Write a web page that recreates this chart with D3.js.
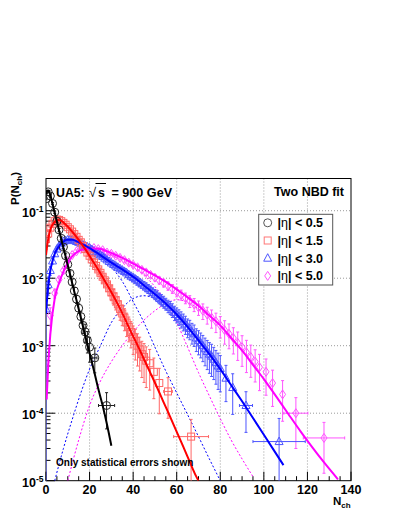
<!DOCTYPE html>
<html><head><meta charset="utf-8">
<script src="https://cdn.jsdelivr.net/npm/d3@7"></script>
<style>body{margin:0;background:#fff}</style>
</head><body>
<svg id="c" width="399" height="516"></svg>
<script>
// ---------- data ----------
const seriesNames = ["|η| < 0.5", "|η| < 1.5", "|η| < 3.0", "|η| < 5.0"];
const xTickLabels = [0, 20, 40, 60, 80, 100, 120, 140];
const yTickValues = [1e-5, 1e-4, 1e-3, 1e-2, 1e-1];
const yTickExps = ["-5", "-4", "-3", "-2", "-1"];

// data points: [N, P, relative error, half bin width]
const data05 = [[0,0.15,0.03,0],[1,0.19,0.03,0],[2,0.165,0.03,0],[3,0.128,0.03,0],[4,0.095,0.04,0],[5,0.07,0.04,0],[6,0.052,0.05,0],[7,0.039,0.05,0],[8,0.029,0.06,0],[9,0.0215,0.07,0],[10,0.016,0.08,0],[11,0.0118,0.09,0],[12,0.0088,0.1,0],[13,0.0065,0.12,0],[14,0.0049,0.14,0],[15,0.0036,0.16,0],[16,0.0027,0.2,0],[17,0.002,0.24,0],[18,0.0016,0.3,0],[19,0.0012,0.35,0],[20,0.00095,0.4,0],[22.4,0.00066,0.4,1],[27.8,0.00013,0.55,3.7]];
const data15 = [[0,0.038,0.3,0],[1,0.046,0.12,0],[2,0.056,0.08,0],[3,0.064,0.06,0],[4,0.07,0.05,0],[5,0.074,0.05,0],[6,0.073,0.05,0],[7,0.07,0.05,0],[8,0.066,0.05,0],[9,0.062,0.05,0],[10,0.057,0.06,0],[11,0.053,0.06,0],[12,0.049,0.07,0],[13,0.045,0.08,0],[14,0.041,0.08,0],[15,0.037,0.09,0],[16,0.034,0.1,0],[17,0.03,0.1,0],[18,0.027,0.11,0],[19,0.024,0.12,0],[20,0.0215,0.13,0],[21,0.019,0.14,0],[22,0.017,0.15,0],[23,0.0152,0.16,0],[24,0.0135,0.17,0],[25,0.012,0.18,0],[26,0.0105,0.19,0],[27,0.0093,0.2,0],[28,0.0081,0.22,0],[29,0.0071,0.23,0],[30,0.0062,0.25,0],[31,0.0054,0.26,0],[32,0.0047,0.28,0],[33,0.0041,0.3,0],[34,0.0035,0.32,0],[35,0.003,0.34,0],[36,0.0026,0.36,0],[37,0.0022,0.38,0],[38,0.0019,0.4,0],[39,0.0016,0.42,0],[40,0.00135,0.45,0],[41,0.00118,0.48,0],[42,0.001,0.5,0],[43,0.00088,0.52,0],[44,0.00075,0.55,0],[45,0.00068,0.58,0],[46,0.0006,0.6,0],[47.6,0.00055,0.6,0],[49.5,0.00041,0.6,0],[52,0.00028,0.65,0],[56,0.00021,0.6,2],[66.6,0.000045,0.8,8]];
const data30 = [[0,0.0035,1.5,0],[1,0.008,0.3,0],[2,0.013,0.15,0],[3,0.018,0.1,0],[4,0.023,0.08,0],[5,0.027,0.07,0],[6,0.03,0.06,0],[7,0.033,0.05,0],[8,0.035,0.05,0],[9,0.036,0.05,0],[10,0.037,0.05,0],[11,0.037,0.05,0],[12,0.037,0.05,0],[13,0.036,0.05,0],[14,0.035,0.05,0],[15,0.034,0.05,0],[16,0.033,0.05,0],[17,0.031,0.05,0],[18,0.03,0.05,0],[19,0.029,0.06,0],[20,0.028,0.06,0],[21,0.0265,0.06,0],[22,0.025,0.06,0],[23,0.0238,0.06,0],[24,0.0228,0.07,0],[25,0.022,0.07,0],[26,0.021,0.07,0],[27,0.0198,0.07,0],[28,0.0187,0.08,0],[29,0.0177,0.08,0],[30,0.0168,0.08,0],[31,0.016,0.08,0],[32,0.0152,0.09,0],[33,0.0145,0.09,0],[34,0.0138,0.09,0],[35,0.0132,0.1,0],[36,0.0126,0.1,0],[37,0.012,0.1,0],[38,0.0113,0.11,0],[39,0.0107,0.11,0],[40,0.0102,0.12,0],[41,0.0097,0.12,0],[42,0.0092,0.13,0],[43,0.0087,0.13,0],[44,0.0082,0.14,0],[45,0.0078,0.14,0],[46,0.0074,0.15,0],[47,0.007,0.15,0],[48,0.0066,0.16,0],[49,0.0062,0.16,0],[50,0.0058,0.17,0],[51,0.0055,0.18,0],[52,0.0051,0.18,0],[53,0.0048,0.19,0],[54,0.0045,0.2,0],[55,0.0042,0.2,0],[56,0.0039,0.21,0],[57,0.0037,0.22,0],[58,0.0034,0.23,0],[59,0.0031,0.24,0],[60,0.0029,0.25,0],[61,0.0027,0.26,0],[62,0.0025,0.27,0],[63,0.0023,0.28,0],[64,0.0021,0.3,0],[65,0.0019,0.31,0],[66,0.0018,0.32,0],[67,0.0016,0.34,0],[68,0.0015,0.35,0],[69,0.0013,0.37,0],[70,0.0012,0.39,0],[71,0.0011,0.4,0],[72,0.001,0.42,0],[73,0.0009,0.44,0],[74,0.00082,0.46,0],[75,0.00075,0.48,0],[76,0.0007,0.5,0],[77,0.00063,0.5,0],[78,0.00056,0.52,0],[79,0.0005,0.55,0],[80,0.00046,0.55,0],[82.6,0.00033,0.55,0],[85.7,0.00024,0.6,0],[91.8,0.00013,0.6,3],[107,0.000038,1.2,12]];
const data50 = [[0,0.00057,0.6,0],[2,0.0028,0.3,0],[4,0.006,0.15,0],[6,0.0095,0.1,0],[8,0.013,0.08,0],[10,0.018,0.06,0],[12,0.022,0.05,0],[14,0.025,0.05,0],[16,0.027,0.05,0],[18,0.028,0.05,0],[20,0.028,0.05,0],[22,0.028,0.05,0],[24,0.027,0.05,0],[26,0.026,0.05,0],[28,0.024,0.06,0],[30,0.023,0.06,0],[32,0.0215,0.06,0],[34,0.02,0.07,0],[36,0.0185,0.07,0],[38,0.017,0.08,0],[40,0.0158,0.08,0],[42,0.0145,0.09,0],[44,0.0133,0.09,0],[46,0.0122,0.1,0],[48,0.0112,0.1,0],[50,0.0102,0.11,0],[52,0.0093,0.12,0],[54,0.0085,0.13,0],[56,0.0077,0.14,0],[58,0.007,0.15,0],[60,0.0063,0.16,0],[62,0.0057,0.17,0],[64,0.0051,0.18,0],[66,0.0046,0.2,0],[68,0.0041,0.22,0],[70,0.0037,0.24,0],[72,0.0033,0.26,0],[74,0.0029,0.28,0],[76,0.0026,0.3,0],[78,0.0023,0.32,0],[80,0.002,0.35,0],[82,0.0017,0.38,0],[84,0.0015,0.4,0],[86,0.0013,0.42,0],[88,0.0011,0.45,0],[90,0.00095,0.48,0],[92,0.0008,0.5,0],[94,0.00068,0.5,0],[96,0.00058,0.5,0],[98,0.00048,0.55,0],[101,0.00041,0.55,0],[104,0.00028,0.55,0],[108.6,0.00019,0.6,0],[114.7,0.0001,0.7,5.5],[127.6,0.000043,0.7,9.5]];

// two-NBD fit curves: [N, P]
const fit05 = [[0,0.175],[0.5,0.195],[1,0.2],[1.5,0.19],[2,0.17],[3,0.126],[4,0.093],[5,0.069],[6,0.051],[7,0.038],[8,0.028],[9,0.021],[10,0.0155],[11,0.0115],[12,0.0085],[13,0.0063],[14,0.0047],[15,0.0035],[16,0.0026],[17,0.0019],[18,0.0014],[19,0.00105],[20,0.00078],[22,0.00043],[24,0.00023],[26,0.00013],[28,0.000068],[30,0.000033]];
const fit15 = [[0,0.022],[1,0.038],[2,0.052],[3,0.062],[4,0.068],[5,0.072],[6,0.073],[7,0.071],[8,0.067],[10,0.058],[12,0.049],[15,0.037],[18,0.027],[21,0.019],[24,0.0133],[27,0.0091],[30,0.0062],[33,0.0041],[36,0.0026],[39,0.0016],[42,0.00102],[45,0.00063],[48,0.00039],[51,0.00024],[54,0.000145],[57,0.000088],[60,0.000053],[63,0.000032],[66,0.000019],[69,0.0000115],[70,0.00001]];
const fit30 = [[0,0.003],[1,0.0075],[2,0.013],[3,0.018],[4,0.023],[6,0.03],[8,0.035],[10,0.037],[12,0.037],[15,0.034],[20,0.028],[25,0.022],[30,0.017],[35,0.0135],[41,0.01],[45,0.0078],[50,0.0058],[55,0.0042],[60,0.0029],[65,0.0019],[70,0.0012],[75,0.00075],[80,0.00045],[85,0.00026],[90,0.00015],[95,0.000085],[100,0.000048],[105,0.000027],[109,0.000017]];
const fit50 = [[0.3,0.00016],[1,0.0005],[2,0.0015],[4,0.005],[6,0.0085],[8,0.0125],[10,0.017],[12,0.021],[14,0.024],[16,0.026],[18,0.027],[20,0.0275],[22,0.0275],[25,0.027],[28,0.025],[30,0.0235],[35,0.02],[40,0.0165],[45,0.0135],[50,0.011],[55,0.0088],[60,0.0068],[65,0.0052],[70,0.0039],[75,0.0028],[80,0.002],[85,0.0013],[90,0.00085],[95,0.00052],[100,0.00032],[105,0.00019],[111,0.0001],[117,0.000053],[122,0.000032],[128,0.000018],[134,0.0000105]];
// NBD components (dotted): soft and semi-hard
const soft30 = [[0,0.003],[1,0.0075],[2,0.013],[3,0.018],[4,0.023],[6,0.03],[8,0.035],[10,0.037],[12,0.0368],[15,0.0335],[20,0.0272],[25,0.0205],[30,0.0145],[35,0.009],[40,0.0045],[45,0.0022],[50,0.00095],[55,0.00042],[60,0.0002],[65,0.000095],[70,0.000045],[75,0.000021],[80,0.00001]];
const hard30 = [[4,0.00001],[8,0.00003],[12,0.00008],[16,0.0002],[20,0.00045],[25,0.001],[30,0.0022],[35,0.0036],[40,0.005],[45,0.0055],[50,0.005],[55,0.004],[60,0.0028],[65,0.00185],[70,0.00118],[75,0.00074],[80,0.00045],[85,0.00026],[90,0.00015],[95,0.000085],[100,0.000048],[105,0.000027],[109,0.000017]];
const soft50 = [[0.3,0.00016],[1,0.0005],[2,0.0015],[4,0.005],[6,0.0085],[8,0.0125],[10,0.017],[12,0.021],[14,0.024],[16,0.026],[18,0.027],[20,0.0274],[22,0.0272],[25,0.0262],[28,0.0237],[30,0.0222],[35,0.0185],[40,0.0148],[45,0.011],[50,0.0075],[55,0.0045],[60,0.0022],[65,0.00095],[70,0.0004],[75,0.00018],[80,0.000083],[85,0.00004],[90,0.000021],[95,0.0000115]];
const hard50 = [[10,0.00001],[15,0.00004],[20,0.00013],[25,0.0003],[30,0.00058],[35,0.001],[40,0.0016],[45,0.0024],[50,0.0033],[55,0.0042],[60,0.0048],[65,0.0044],[70,0.0035],[75,0.0027],[80,0.00195],[85,0.00128],[90,0.00084],[95,0.00052],[100,0.00032],[105,0.00019],[111,0.0001],[117,0.000053],[122,0.000032],[128,0.000018],[134,0.0000105]];

// ---------- layout ----------
const svg = d3.select("#c");
const L = 46, R = 351, T = 178.5, B = 480.7;
const x = d3.scaleLinear().domain([0, 140]).range([L, R]);
const y = d3.scaleLog().domain([1e-5, 0.3]).range([B, T]);
const FONT = "'Liberation Sans', Arial, Helvetica, sans-serif";

svg.append("defs").append("clipPath").attr("id", "clip")
  .append("rect").attr("x", L).attr("y", T).attr("width", R - L).attr("height", B - T);

// grid
const grid = svg.append("g").attr("stroke", "#9a9a9a").attr("stroke-width", 1).attr("stroke-dasharray", "1,2");
xTickLabels.slice(1, -1).forEach(v => grid.append("line").attr("x1", x(v)).attr("x2", x(v)).attr("y1", T).attr("y2", B));
yTickValues.slice(1).forEach(v => grid.append("line").attr("x1", L).attr("x2", R).attr("y1", y(v)).attr("y2", y(v)));

// frame
svg.append("rect").attr("x", L).attr("y", T).attr("width", R - L).attr("height", B - T)
  .attr("fill", "none").attr("stroke", "#000").attr("stroke-width", 1);

// ticks
const ax = svg.append("g").attr("stroke", "#000").attr("stroke-width", 1);
d3.range(0, 141, 5).forEach(v => {
  const major = v % 20 === 0;
  ax.append("line").attr("x1", x(v)).attr("x2", x(v)).attr("y1", B).attr("y2", B - (major ? 9 : 4.5));
});
for (let e = -5; e <= -1; e++) {
  for (let m = 1; m <= 9; m++) {
    const v = m * Math.pow(10, e);
    if (v > 0.3) break;
    ax.append("line").attr("x1", L).attr("x2", L + (m === 1 ? 9 : 4.5)).attr("y1", y(v)).attr("y2", y(v));
  }
}
// x labels
xTickLabels.forEach(v => svg.append("text").attr("x", x(v)).attr("y", B + 13).attr("text-anchor", "middle")
  .attr("font-family", FONT).attr("font-weight", "bold").attr("font-size", 12.5).text(v));
// y labels
yTickValues.forEach((v, i) => {
  svg.append("text").attr("x", 36).attr("y", y(v) + 6).attr("text-anchor", "end")
    .attr("font-family", FONT).attr("font-weight", "bold").attr("font-size", 12.5).text("10");
  svg.append("text").attr("x", 36).attr("y", y(v) + 1).attr("font-family", FONT).attr("font-weight", "bold")
    .attr("font-size", 8.5).text(yTickExps[i]);
});
// axis titles
const xt = svg.append("text").attr("x", 333).attr("y", 505).attr("font-family", FONT).attr("font-weight", "bold").attr("font-size", 11.5);
xt.append("tspan").text("N");
xt.append("tspan").attr("font-size", 8).attr("dy", 3).text("ch");
const yt = svg.append("text").attr("transform", "translate(18.5,205) rotate(-90)").attr("font-family", FONT).attr("font-weight", "bold").attr("font-size", 11.5);
yt.append("tspan").text("P(N");
yt.append("tspan").attr("font-size", 8).attr("dy", 3).text("ch");
yt.append("tspan").attr("dy", -3).text(")");

// ---------- plot content ----------
const plot = svg.append("g").attr("clip-path", "url(#clip)");
const line = d3.line().x(d => x(d[0])).y(d => y(Math.max(d[1], 1e-7))).curve(d3.curveMonotoneX);

// dotted components
[[soft30, "#0000ff"], [hard30, "#0000ff"], [soft50, "#ff00ff"], [hard50, "#ff00ff"]].forEach(([c, col]) =>
  plot.append("path").datum(c).attr("d", line).attr("fill", "none").attr("stroke", col).attr("stroke-width", 1).attr("stroke-dasharray", "2,2"));

const sets = [
  {data: data05, fit: fit05, mcol: "#222", lcol: "#000", shape: "circle"},
  {data: data15, fit: fit15, mcol: "#ff6666", lcol: "#ff0000", shape: "square"},
  {data: data30, fit: fit30, mcol: "#4d55ff", lcol: "#0000ff", shape: "triangle"},
  {data: data50, fit: fit50, mcol: "#ff55ff", lcol: "#ff00ff", shape: "diamond"}
];

function marker(g, shape, cx, cy, col) {
  if (shape === "circle") g.append("circle").attr("cx", cx).attr("cy", cy).attr("r", 4).attr("fill", "none").attr("stroke", col);
  else if (shape === "square") g.append("rect").attr("x", cx - 3.5).attr("y", cy - 3.5).attr("width", 7).attr("height", 7).attr("fill", "none").attr("stroke", col);
  else if (shape === "triangle") g.append("path").attr("d", `M${cx},${cy - 4.5}L${cx + 4},${cy + 3}L${cx - 4},${cy + 3}Z`).attr("fill", "none").attr("stroke", col);
  else g.append("path").attr("d", `M${cx},${cy - 4.5}L${cx + 3},${cy}L${cx},${cy + 4.5}L${cx - 3},${cy}Z`).attr("fill", "none").attr("stroke", col);
}

[3, 2, 1, 0].forEach(i => {
  const s = sets[i];
  const g = plot.append("g").attr("stroke-width", 1);
  s.data.forEach(d => {
    const cx = x(d[0]), cy = y(d[1]);
    const lo = d[1] * (1 - d[2]) > 0 ? y(d[1] * (1 - d[2])) : B + 5;
    const hi = y(d[1] * (1 + d[2]));
    g.append("line").attr("x1", cx).attr("x2", cx).attr("y1", lo).attr("y2", hi).attr("stroke", s.mcol);
    g.append("line").attr("x1", cx - 1.5).attr("x2", cx + 1.5).attr("y1", hi).attr("y2", hi).attr("stroke", s.mcol);
    g.append("line").attr("x1", cx - 1.5).attr("x2", cx + 1.5).attr("y1", lo).attr("y2", lo).attr("stroke", s.mcol);
    if (d[3] > 0) {
      const xl = x(d[0] - d[3]), xr = x(d[0] + d[3]);
      g.append("line").attr("x1", xl).attr("x2", xr).attr("y1", cy).attr("y2", cy).attr("stroke", s.mcol);
      g.append("line").attr("x1", xl).attr("x2", xl).attr("y1", cy - 1.5).attr("y2", cy + 1.5).attr("stroke", s.mcol);
      g.append("line").attr("x1", xr).attr("x2", xr).attr("y1", cy - 1.5).attr("y2", cy + 1.5).attr("stroke", s.mcol);
    }
    marker(g, s.shape, cx, cy, s.mcol);
  });
});
[3, 2, 1, 0].forEach(i => {
  const s = sets[i];
  plot.append("path").datum(s.fit).attr("d", line).attr("fill", "none").attr("stroke", s.lcol).attr("stroke-width", 2);
});

// ---------- texts ----------
const tAttr = sel => sel.attr("font-family", FONT).attr("font-weight", "bold").attr("font-size", 12.3);
tAttr(svg.append("text").attr("x", 56).attr("y", 196.7)).text("UA5:");
svg.append("text").attr("x", 89).attr("y", 196.7).attr("font-family", FONT).attr("font-size", 13).text("√");
tAttr(svg.append("text").attr("x", 98).attr("y", 196.7)).text("s");
svg.append("line").attr("x1", 95.5).attr("x2", 106).attr("y1", 183.5).attr("y2", 183.5).attr("stroke", "#000").attr("stroke-width", 1);
tAttr(svg.append("text").attr("x", 111.5).attr("y", 196.7)).attr("font-size", 12.6).text("= 900 GeV");

svg.append("text").attr("x", 344).attr("y", 195.5).attr("text-anchor", "end").attr("font-family", FONT).attr("font-weight", "bold").attr("font-size", 12.5).text("Two NBD fit");
svg.append("text").attr("x", 56).attr("y", 466).attr("font-family", FONT).attr("font-weight", "bold").attr("font-size", 10).text("Only statistical errors shown");

// legend
svg.append("rect").attr("x", 258.7).attr("y", 214.3).attr("width", 74).attr("height", 70.7).attr("fill", "#fff").attr("stroke", "#555").attr("stroke-width", 1);
const legCols = ["#555", "#ff7777", "#4d55ff", "#ff55ff"];
const legShapes = ["circle", "square", "triangle", "diamond"];
seriesNames.forEach((name, i) => {
  const cy = 222.8 + i * 17.7;
  const lg = svg.append("g").attr("stroke-width", 1);
  marker(lg, legShapes[i], 267.7, cy, legCols[i]);
  const t = svg.append("text").attr("x", 277.5).attr("y", cy + 4.5).attr("font-family", FONT).attr("font-size", 12.5);
  const parts = name.split("η");
  t.append("tspan").attr("font-weight", "bold").text(parts[0]);
  t.append("tspan").attr("font-weight", "normal").text("η");
  t.append("tspan").attr("font-weight", "bold").text(parts[1]);
});
</script>
</body></html>
